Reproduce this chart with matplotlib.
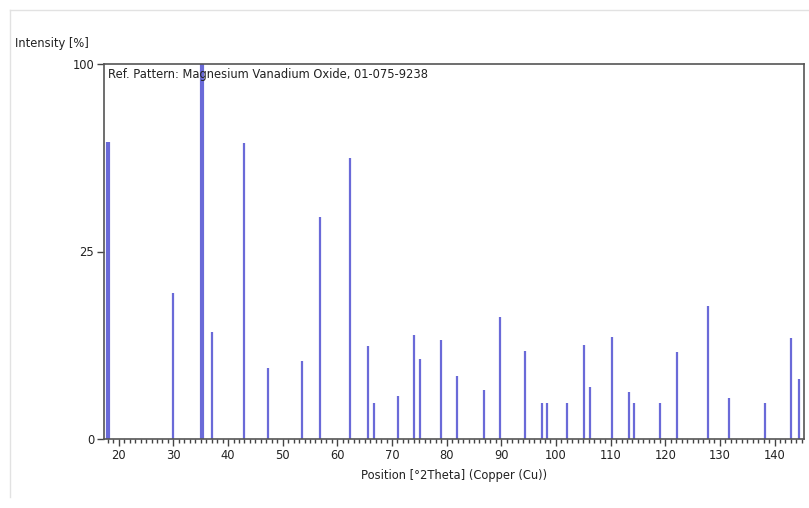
"""Reference pattern stick plot: Magnesium Vanadium Oxide, 01-075-9238."""
import matplotlib
matplotlib.use("Agg")
import matplotlib.pyplot as plt
from matplotlib.lines import Line2D
from matplotlib.ticker import MultipleLocator, FixedLocator
import numpy as np

# peak positions (deg 2Theta) and relative intensities (%)
positions = [18.1, 30.0, 35.3, 37.0, 42.9, 47.3, 53.5, 56.8, 62.3, 65.7,
             66.7, 71.1, 74.0, 75.1, 78.9, 81.9, 86.9, 89.8, 94.4, 97.4,
             98.4, 102.0, 105.2, 106.3, 110.2, 113.3, 114.2, 119.1, 122.2, 127.9,
             131.6, 138.3, 143.0, 144.4]
intensities = [62.8, 15.2, 100.0, 8.2, 62.2, 3.6, 4.3, 35.1, 56.0, 6.1,
               0.9, 1.3, 7.7, 4.5, 7.0, 2.8, 1.7, 10.6, 5.5, 0.9,
               0.9, 0.9, 6.3, 1.9, 7.4, 1.6, 0.9, 0.9, 5.4, 12.6,
               1.2, 0.9, 7.2, 2.6]
x_ticks = [20, 30, 40, 50, 60, 70, 80, 90, 100, 110, 120, 130, 140]
y_ticks = [0, 25, 100]

TITLE = "Ref. Pattern: Magnesium Vanadium Oxide, 01-075-9238"
FONT = 8.3

plt.rcParams["font.family"] = ["DejaVu Sans"]

fig = plt.figure(figsize=(8.09, 5.08), dpi=100)
ax = fig.add_axes([104 / 809, 1 - 439 / 508, 699.5 / 809, 375 / 508])

widths = [3.0 if v >= 99 or p < 20 else 1.6 for p, v in zip(positions, intensities)]
ax.vlines(positions, 0, intensities, colors="#6a6ad8", linewidths=widths)

# square-root intensity axis
ax.set_yscale("function", functions=(lambda y: np.sqrt(np.clip(y, 0, None)), lambda y: y ** 2))
ax.set_ylim(0, 100)
ax.set_xlim(17.3, 145.3)

ax.xaxis.set_major_locator(FixedLocator(x_ticks))
ax.xaxis.set_minor_locator(MultipleLocator(1))
ax.yaxis.set_major_locator(FixedLocator(y_ticks))
ax.yaxis.set_minor_locator(FixedLocator([]))
ax.set_yticklabels([str(v) for v in y_ticks])
ax.tick_params(axis="both", which="major", direction="out", length=5, width=1,
               color="#444444", labelsize=FONT, labelcolor="#222222", pad=2)
ax.tick_params(axis="x", which="minor", direction="out", length=3, width=1, color="#444444")

for s in ax.spines.values():
    s.set_color("#555555")
    s.set_linewidth(1.2)

ax.text(0.006, 0.99, TITLE, transform=ax.transAxes, ha="left", va="top",
        fontsize=FONT, color="#222222")

fig.text(15 / 809, 1 - 44 / 508, "Intensity [%]", ha="left", va="center",
         fontsize=FONT, color="#222222")
fig.text(454 / 809, 1 - 476 / 508, "Position [°2Theta] (Copper (Cu))", ha="center",
         va="center", fontsize=FONT, color="#222222")

# faint panel border
fig.add_artist(Line2D([10 / 809, 1], [1 - 10 / 508, 1 - 10 / 508], color="#e2e2e2", lw=1))
fig.add_artist(Line2D([10 / 809, 10 / 809], [1 - 10 / 508, 1 - 497 / 508], color="#e2e2e2", lw=1))

fig.savefig("out.png", dpi=100)
plt.close(fig)
